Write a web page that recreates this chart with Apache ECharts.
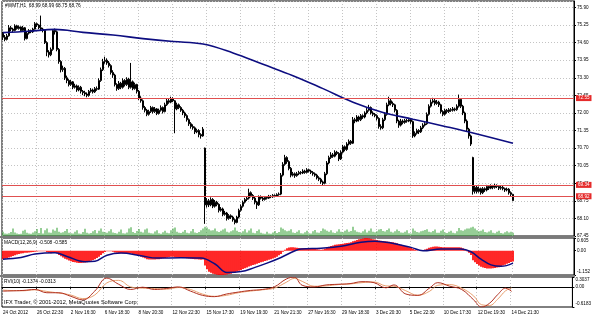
<!DOCTYPE html>
<html><head><meta charset="utf-8">
<script src="https://cdn.jsdelivr.net/npm/echarts@6/dist/echarts.min.js"></script>
<style>html,body{margin:0;padding:0;background:#fff}#c{width:594px;height:316px}</style>
</head><body><div id="c"></div><script>
const xLabels = ['24 Oct 2012','26 Oct 22:30','2 Nov 16:30','6 Nov 18:30','8 Nov 20:30','12 Nov 22:30','15 Nov 17:30','19 Nov 19:30','21 Nov 21:30','27 Nov 16:30','29 Nov 18:30','3 Dec 20:30','5 Dec 22:30','10 Dec 17:30','12 Dec 19:30','14 Dec 21:30'];
const open = [
74.95,74.80,74.72,74.85,75.15,75.10,75.05,75.22,75.12,75.18,75.05,75.15,74.75,74.95,75.05,75.00,
75.10,75.30,75.25,75.15,75.10,75.05,74.60,74.25,74.15,74.35,75.05,75.00,74.35,73.90,73.60,73.65,
73.30,73.20,73.05,73.15,72.95,73.00,72.85,72.95,72.80,72.75,72.70,72.65,72.80,72.85,72.78,72.90,
72.88,73.20,73.60,73.90,73.95,73.85,73.75,73.50,73.40,73.05,72.90,73.10,72.95,73.20,73.05,73.25,
72.95,73.15,72.90,73.05,72.80,72.55,72.45,72.20,72.10,71.95,72.05,72.20,72.05,72.15,71.98,72.10,
72.20,72.05,72.30,72.45,72.40,72.52,72.45,72.15,72.30,72.20,72.10,72.00,71.90,71.75,71.60,71.50,
71.45,71.30,71.35,71.20,71.15,70.70,68.60,68.75,68.60,68.80,68.55,68.70,68.62,68.40,68.45,68.25,
68.30,68.10,68.20,68.15,68.05,67.95,68.15,68.40,68.55,68.70,68.80,68.85,69.05,68.95,68.85,68.70,
68.60,68.90,68.85,68.80,68.88,68.85,68.92,68.90,68.95,68.92,68.98,69.00,69.70,70.10,70.35,70.20,
69.95,69.70,69.75,69.68,69.75,69.80,69.78,69.85,69.80,69.90,69.85,69.80,69.75,69.70,69.60,69.55,
69.45,69.40,69.75,70.15,70.35,70.45,70.40,70.55,70.50,70.30,70.55,70.75,70.65,70.85,70.95,70.88,
71.75,71.70,71.85,71.75,71.90,71.85,72.00,72.10,72.20,72.00,71.95,71.90,71.80,71.50,71.45,71.75,
71.95,72.30,72.45,72.35,72.30,72.10,71.70,71.55,71.70,71.65,71.72,71.70,71.75,71.68,71.15,71.25,
71.35,71.30,71.45,71.55,71.60,71.95,72.25,72.40,72.45,72.35,72.40,72.30,72.05,71.95,72.10,72.05,
72.12,72.10,72.15,72.12,72.25,72.50,72.25,72.00,71.70,71.40,71.15,70.35,69.10,69.25,69.10,69.20,
69.05,69.20,69.15,69.28,69.22,69.30,69.25,69.32,69.28,69.22,69.25,69.20,69.15,69.18,69.05,68.99];
const close = [
74.80,74.72,74.85,75.15,75.10,75.05,75.22,75.12,75.18,75.05,75.15,74.75,74.95,75.05,75.00,75.10,
75.30,75.25,75.15,75.10,75.05,74.60,74.25,74.15,74.35,75.05,75.00,74.35,73.90,73.60,73.65,73.30,
73.20,73.05,73.15,72.95,73.00,72.85,72.95,72.80,72.75,72.70,72.65,72.80,72.85,72.78,72.90,72.88,
73.20,73.60,73.90,73.95,73.85,73.75,73.50,73.40,73.05,72.90,73.10,72.95,73.20,73.05,73.25,72.95,
73.15,72.90,73.05,72.80,72.55,72.45,72.20,72.10,71.95,72.05,72.20,72.05,72.15,71.98,72.10,72.20,
72.05,72.30,72.45,72.40,72.52,72.45,72.15,72.30,72.20,72.10,72.00,71.90,71.75,71.60,71.50,71.45,
71.30,71.35,71.20,71.15,71.40,68.60,68.75,68.60,68.80,68.55,68.70,68.62,68.40,68.45,68.25,68.30,
68.10,68.20,68.15,68.05,67.95,68.15,68.40,68.55,68.70,68.80,68.85,69.05,68.95,68.85,68.70,68.60,
68.90,68.85,68.80,68.88,68.85,68.92,68.90,68.95,68.92,68.98,69.00,69.70,70.10,70.35,70.20,69.95,
69.70,69.75,69.68,69.75,69.80,69.78,69.85,69.80,69.90,69.85,69.80,69.75,69.70,69.60,69.55,69.45,
69.40,69.75,70.15,70.35,70.45,70.40,70.55,70.50,70.30,70.55,70.75,70.65,70.85,70.95,70.88,71.75,
71.70,71.85,71.75,71.90,71.85,72.00,72.10,72.20,72.00,71.95,71.90,71.80,71.50,71.45,71.75,71.95,
72.30,72.45,72.35,72.30,72.10,71.70,71.55,71.70,71.65,71.72,71.70,71.75,71.68,71.15,71.25,71.35,
71.30,71.45,71.55,71.60,71.95,72.25,72.40,72.45,72.35,72.40,72.30,72.05,71.95,72.10,72.05,72.12,
72.10,72.15,72.12,72.25,72.50,72.25,72.00,71.70,71.40,71.15,70.85,69.10,69.25,69.10,69.20,69.05,
69.20,69.15,69.28,69.22,69.30,69.25,69.32,69.28,69.22,69.25,69.20,69.15,69.18,69.05,68.99,68.76];
const high = [
75.00,74.88,74.92,75.25,75.22,75.15,75.28,75.26,75.24,75.20,75.22,75.18,75.00,75.10,75.08,75.15,
75.36,75.34,75.28,75.60,75.15,75.08,74.65,74.32,74.42,75.10,75.12,75.05,74.40,73.95,73.75,73.70,
73.38,73.25,73.22,73.18,73.08,73.05,73.02,73.00,72.85,72.82,72.76,72.85,72.92,72.90,72.96,72.98,
73.28,73.68,74.00,74.08,74.02,73.92,73.80,73.58,73.45,73.10,73.18,73.15,73.28,73.25,73.32,73.30,
73.85,73.20,73.12,73.08,72.85,72.62,72.50,72.26,72.15,72.12,72.26,72.24,72.22,72.18,72.16,72.28,
72.24,72.38,72.52,72.55,72.60,72.58,72.48,72.38,72.35,72.25,72.15,72.05,71.95,71.80,71.66,71.58,
71.50,71.42,71.40,71.25,71.48,70.72,68.85,68.82,68.88,68.85,68.78,68.75,68.66,68.52,68.50,68.38,
68.34,68.26,68.25,68.20,68.10,68.20,68.46,68.62,68.76,68.86,68.92,69.20,69.10,69.00,68.90,68.75,
68.95,68.95,68.90,68.93,68.92,68.97,68.96,69.00,68.99,69.03,69.06,69.78,70.18,70.45,70.40,70.25,
70.00,69.82,69.80,69.82,69.86,69.85,69.92,69.90,69.96,69.94,69.90,69.85,69.80,69.75,69.66,69.60,
69.50,69.82,70.22,70.42,70.55,70.52,70.62,70.60,70.55,70.62,70.82,70.80,70.92,71.02,71.00,71.85,
71.82,71.92,71.90,71.96,71.95,72.06,72.18,72.30,72.24,72.06,72.00,71.95,71.84,71.58,71.82,72.02,
72.38,72.60,72.52,72.42,72.34,72.14,71.75,71.78,71.76,71.78,71.78,71.82,71.80,71.72,71.32,71.42,
71.40,71.52,71.62,71.66,72.02,72.32,72.50,72.56,72.52,72.48,72.45,72.34,72.10,72.16,72.15,72.18,
72.18,72.22,72.20,72.32,72.68,72.55,72.30,72.05,71.76,71.45,71.20,70.38,69.32,69.30,69.28,69.24,
69.26,69.25,69.34,69.32,69.36,69.34,69.38,69.36,69.32,69.30,69.30,69.24,69.24,69.22,69.10,68.99];
const low = [
74.70,74.65,74.68,74.82,75.02,74.98,75.02,75.08,75.08,75.00,75.02,74.68,74.72,74.90,74.95,74.96,
75.08,75.18,75.10,75.05,74.98,74.55,74.10,74.05,74.10,74.30,74.90,74.28,73.82,73.50,73.52,73.22,
73.10,72.98,73.00,72.88,72.90,72.78,72.80,72.72,72.66,72.62,72.58,72.60,72.75,72.72,72.74,72.82,
72.85,73.15,73.55,73.82,73.78,73.68,73.42,73.30,72.98,72.82,72.85,72.88,72.90,72.98,73.00,72.88,
72.90,72.84,72.86,72.72,72.48,72.38,72.12,72.02,71.88,71.90,72.00,71.98,72.00,71.92,71.94,72.05,
71.98,72.02,72.26,72.34,72.36,72.40,71.25,72.10,72.14,72.04,71.92,71.82,71.68,71.52,71.42,71.38,
71.22,71.25,71.10,71.05,71.12,67.90,68.50,68.52,68.55,68.48,68.50,68.55,68.32,68.35,68.18,68.20,
68.02,68.05,68.08,67.98,67.88,67.92,68.10,68.35,68.50,68.65,68.74,68.80,68.88,68.78,68.62,68.45,
68.56,68.80,68.74,68.76,68.80,68.82,68.85,68.86,68.88,68.90,68.94,68.96,69.65,70.05,70.12,69.88,
69.62,69.65,69.60,69.64,69.70,69.72,69.74,69.75,69.76,69.80,69.74,69.68,69.64,69.54,69.48,69.38,
69.30,69.36,69.70,70.10,70.30,70.34,70.36,70.44,70.22,70.26,70.50,70.58,70.60,70.80,70.82,70.85,
71.62,71.66,71.68,71.70,71.78,71.80,71.95,72.05,71.94,71.88,71.84,71.72,71.42,71.38,71.40,71.70,
71.90,72.25,72.28,72.22,72.02,71.62,71.45,71.50,71.58,71.60,71.64,71.66,71.60,71.08,71.10,71.20,
71.22,71.26,71.40,71.50,71.56,71.90,72.20,72.35,72.28,72.30,72.22,71.98,71.88,71.90,71.98,72.00,
72.04,72.05,72.06,72.08,72.20,72.18,71.92,71.62,71.32,71.05,70.78,68.98,69.02,69.02,69.05,68.98,
69.00,69.08,69.10,69.15,69.18,69.18,69.20,69.22,69.15,69.16,69.14,69.08,69.10,68.98,68.92,68.75];
const volume = [
520,310,260,340,480,900,420,300,250,280,620,750,380,290,260,410,
560,820,350,940,300,700,880,420,380,760,640,980,520,380,450,600,
820,400,330,290,520,690,310,270,480,850,380,300,350,560,720,330,
640,900,520,450,380,560,800,420,360,300,500,760,340,290,420,880,
1050,480,350,600,820,500,420,760,880,400,330,300,540,700,320,280,
450,620,380,340,700,900,1000,520,400,360,500,720,380,330,560,830,
420,360,480,700,900,1100,1000,800,650,700,900,560,480,620,760,880,
500,420,560,700,1000,620,480,400,560,800,420,650,900,380,340,600,
760,380,300,280,520,300,260,420,600,350,480,1000,860,700,560,620,
800,420,360,520,700,330,300,460,640,340,300,560,720,420,380,600,
880,760,620,500,700,420,360,540,800,500,440,620,760,520,600,1100,
700,520,440,380,560,760,420,640,900,500,460,560,780,820,600,540,
720,880,500,420,560,760,600,420,380,500,700,340,300,900,620,480,
420,560,640,720,800,520,460,600,760,400,380,620,780,420,360,500,
640,380,340,560,960,700,620,760,880,900,1000,1100,900,700,560,620,
760,480,420,540,680,380,320,500,620,360,300,460,560,420,500,380];
// moving average, read at sample bars [bar index, value]
const maPoints = [[0,74.97],[13,75.02],[26,75.09],[40,74.98],[55,74.88],[70,74.75],[85,74.64],[100,74.55],[115,74.22],[130,73.80],[145,73.38],[160,72.90],[175,72.40],[190,72.02],[205,71.77],[220,71.52],[235,71.26],[255,70.88]];
const macdHist = [
-0.40,-0.38,-0.35,-0.32,-0.28,
-0.25,-0.22,-0.18,-0.15,-0.13,-0.12,-0.10,-0.09,-0.08,-0.07,-0.06,
-0.05,-0.04,-0.03,-0.03,-0.02,-0.03,-0.06,-0.10,-0.12,-0.10,
-0.08,-0.12,-0.20,-0.26,
-0.32,-0.38,-0.42,-0.46,-0.50,-0.53,-0.55,-0.57,-0.58,-0.58,-0.57,-0.56,-0.55,
-0.52,-0.48,-0.44,-0.40,-0.35,-0.28,-0.20,-0.12,-0.06,-0.02,
-0.02,-0.03,-0.05,-0.08,-0.10,-0.12,-0.12,
-0.12,-0.12,-0.11,-0.12,-0.13,-0.15,-0.17,-0.20,-0.24,-0.28,
-0.32,-0.36,-0.40,-0.42,-0.42,-0.42,-0.42,-0.41,-0.40,-0.38,-0.36,-0.34,-0.32,
-0.30,-0.28,-0.28,-0.30,-0.31,-0.32,-0.33,-0.34,-0.35,-0.36,-0.37,-0.38,-0.39,-0.40,-0.41,-0.42,-0.43,
-0.42,-0.70,-0.88,
-1.00,-1.05,-1.09,-1.12,-1.14,-1.15,-1.15,-1.152,-1.14,-1.13,-1.11,-1.09,-1.06,
-1.03,-0.99,-0.95,-0.91,-0.87,-0.83,-0.79,-0.75,-0.71,-0.68,
-0.65,-0.62,-0.58,-0.55,-0.52,-0.49,-0.46,-0.43,-0.40,-0.37,-0.33,-0.28,-0.22,-0.15,
-0.05,0.05,0.12,0.15,0.16,
0.16,0.15,0.14,0.13,0.12,0.12,0.12,0.11,0.10,0.10,0.09,0.08,0.07,0.06,0.05,
0.06,0.10,0.15,0.19,0.22,0.25,0.28,0.30,0.31,0.32,0.33,0.35,0.37,0.38,0.40,
0.45,0.48,0.51,0.54,0.56,0.58,0.60,0.605,0.59,0.57,0.55,
0.53,0.51,0.49,0.47,0.46,0.45,0.44,0.43,0.42,0.40,0.38,0.35,0.32,0.29,
0.26,0.23,0.20,0.17,0.14,0.10,0.05,0.02,0.00,0.02,0.04,
0.06,0.10,0.14,0.17,0.19,0.20,0.20,0.19,0.18,
0.17,0.17,0.17,0.16,0.16,0.16,0.16,0.16,0.17,0.15,0.12,
0.06,-0.02,-0.10,-0.20,
-0.45,-0.55,-0.63,-0.70,-0.76,-0.80,-0.82,-0.84,
-0.84,-0.84,-0.83,-0.82,-0.80,-0.78,-0.75,
-0.70,-0.66,-0.62,-0.58,-0.54,-0.508];
const macdSignal = [[0,-0.40],[9,-0.32],[16,-0.16],[26,-0.10],[32,-0.27],[41,-0.52],[46,-0.50],[52,-0.21],[59,-0.11],[69,-0.24],[77,-0.35],[89,-0.33],[99,-0.35],[106,-0.63],[112,-1.03],[119,-0.99],[126,-0.79],[132,-0.59],[139,-0.32],[146,0.0],[149,0.08],[159,0.12],[169,0.21],[179,0.40],[186,0.45],[194,0.37],[204,0.16],[210,0.0],[219,0.08],[229,0.08],[234,-0.05],[239,-0.40],[244,-0.67],[249,-0.74],[255,-0.585]];
const rviMain = [[0,-0.13],[10,-0.11],[16,-0.08],[22,-0.18],[28,-0.18],[34,-0.29],[40,-0.40],[46,-0.13],[52,0.27],[58,0.08],[64,-0.08],[70,-0.01],[76,-0.08],[82,-0.05],[88,0.0],[94,-0.13],[100,-0.26],[106,-0.30],[112,-0.22],[118,-0.16],[124,-0.11],[130,-0.08],[136,0.0],[142,0.24],[146,0.30],[150,0.05],[156,0.0],[162,0.06],[168,0.08],[174,0.10],[180,0.16],[186,0.13],[192,-0.03],[196,0.06],[202,-0.22],[208,-0.26],[214,-0.03],[218,0.13],[224,0.02],[230,-0.08],[236,-0.40],[240,-0.618],[244,-0.50],[248,-0.24],[252,-0.04],[255,-0.1374]];
const rviSignal = [[0,-0.10],[10,-0.12],[16,-0.09],[22,-0.14],[28,-0.19],[34,-0.25],[40,-0.36],[46,-0.25],[52,0.12],[58,0.20],[64,0.0],[70,-0.04],[76,-0.05],[82,-0.07],[88,-0.02],[94,-0.08],[100,-0.22],[106,-0.29],[112,-0.26],[118,-0.18],[124,-0.13],[130,-0.09],[136,-0.04],[142,0.14],[146,0.26],[150,0.17],[156,0.02],[162,0.03],[168,0.07],[174,0.09],[180,0.13],[186,0.15],[192,0.03],[196,0.02],[202,-0.12],[208,-0.26],[214,-0.13],[218,0.05],[224,0.07],[230,-0.04],[236,-0.28],[240,-0.55],[244,-0.57],[248,-0.38],[252,-0.12],[255,-0.0313]];
const hLines = [72.55, 69.34, 68.92];
const lastPrice = 68.76;
const macdTicks = [0.605, 0, -1.152];
const rviTicks = [0.3037, 0, -0.6183];

const SLOTS = 286, STEP = 17;
const cats = [];
for (let i = 0; i < SLOTS; i++) cats.push(i % STEP === 0 && i / STEP < xLabels.length ? xLabels[i / STEP] : String(i));
const isLab = (i) => i % STEP === 0 && i / STEP < xLabels.length;
const candles = open.map((o, i) => [o, close[i], low[i], high[i]]);
const FS = 4.6, FF = 'Liberation Sans';
const grid = {color:'#c4c4c4', type:[1,2], width:1};
function xa(gi, showLab) {
  return {type:'category', gridIndex:gi, data:cats, boundaryGap:true,
    axisLine:{show:showLab, lineStyle:{color:'#000'}},
    axisTick:{show:showLab, interval:isLab, length:2, lineStyle:{color:'#000'}},
    axisLabel:{show:showLab, interval:isLab, align:'left', fontSize:FS, color:'#000', margin:3, fontFamily:FF},
    splitLine:{show:true, interval:isLab, lineStyle:grid}};
}
function subY(gi, ticks) {
  const mx = ticks[0], mn = ticks[2];
  return {type:'value', gridIndex:gi, position:'right', min:mn, max:mx,
    axisLine:{show:true, lineStyle:{color:'#000'}},
    axisTick:{show:true, length:2, customValues:ticks, lineStyle:{color:'#000'}},
    splitLine:{show:false},
    axisLabel:{customValues:ticks, color:'#000', fontSize:FS, margin:3, fontFamily:FF,
      formatter:(v)=>{ if (Math.abs(v) < 1e-9) return '0.00';
        if (Math.abs(v-mx) < 1e-6) return '{t|'+mx+'}';
        if (Math.abs(v-mn) < 1e-6) return '{b|'+mn+'}'; return String(v); },
      rich:{t:{fontSize:FS, color:'#000', fontFamily:FF, padding:[6,0,0,0]}, b:{fontSize:FS, color:'#000', fontFamily:FF, padding:[0,0,6,0]}}}};
}
const chart = echarts.init(document.getElementById('c'), null, {renderer:'canvas'});
chart.setOption({
  animation:false, backgroundColor:'#fff', textStyle:{fontFamily:FF},
  grid:[{left:2, top:1, width:572, height:235, show:true, borderColor:'#000', borderWidth:1},
        {left:2, top:238, width:572, height:37, show:true, borderColor:'#000', borderWidth:1},
        {left:2, top:277, width:572, height:30, show:true, borderColor:'#000', borderWidth:1}],
  xAxis:[xa(0,false), xa(1,false), xa(2,true)],
  yAxis:[
    {type:'value', gridIndex:0, position:'right', min:67.45, max:76.14, interval:0.65,
     axisLine:{show:true, lineStyle:{color:'#000'}}, axisTick:{show:true, length:2, lineStyle:{color:'#000'}},
     axisLabel:{fontSize:FS, color:'#000', margin:3, showMaxLabel:false, fontFamily:FF, formatter:(v)=>v.toFixed(2)},
     splitLine:{show:true, lineStyle:grid}},
    {type:'value', gridIndex:0, show:false, min:0, max:28000, splitLine:{show:false}},
    subY(1, macdTicks),
    subY(2, rviTicks)
  ],
  series:[
    {type:'bar', xAxisIndex:0, yAxisIndex:1, data:volume, barWidth:0.9, itemStyle:{color:'#2e9e2e'}, silent:true},
    {type:'candlestick', xAxisIndex:0, yAxisIndex:0, data:candles, barWidth:1.8,
     itemStyle:{color:'#fff', color0:'#000', borderColor:'#000', borderColor0:'#000', borderWidth:1},
     markLine:{silent:true, symbol:['none','none'], animation:false,
       lineStyle:{color:'#e05050', width:1, type:'solid'},
       label:{position:'end', distance:2, formatter:(p)=>p.value.toFixed(2), backgroundColor:'#e52b2b', color:'#fff', fontSize:FS, padding:[1,2,0,2], fontFamily:FF},
       data: hLines.map(v=>({yAxis:v})).concat([{yAxis:lastPrice, lineStyle:{opacity:0}, label:{backgroundColor:'#000', color:'#fff'}}])}},
    {type:'line', xAxisIndex:0, yAxisIndex:0, data:maPoints, smooth:0.4, showSymbol:false, connectNulls:true,
     lineStyle:{color:'#0d0d80', width:1.6}},
    {type:'bar', xAxisIndex:1, yAxisIndex:2, data:macdHist, barWidth:1.7, itemStyle:{color:'#ff0000'}},
    {type:'line', xAxisIndex:1, yAxisIndex:2, data:macdSignal, smooth:0.4, showSymbol:false, lineStyle:{color:'#0d0d80', width:1.5}},
    {type:'line', xAxisIndex:2, yAxisIndex:3, data:rviSignal, smooth:0.4, showSymbol:false, lineStyle:{color:'#e8a070', width:1}},
    {type:'line', xAxisIndex:2, yAxisIndex:3, data:rviMain, smooth:0.4, showSymbol:false, lineStyle:{color:'#b03020', width:1}}
  ],
  graphic:[
    {type:'rect', shape:{x:0, y:236, width:575, height:2}, style:{fill:'#7a7a7a'}, z:100},
    {type:'rect', shape:{x:0, y:275, width:575, height:2}, style:{fill:'#7a7a7a'}, z:100},
    {type:'text', x:5, y:6, style:{text:'#WMT,H1  68.99 68.99 68.75 68.76', fill:'#000', font:'4.8px "Liberation Sans"', verticalAlign:'middle'}, z:101},
    {type:'text', x:4, y:242.5, style:{text:'MACD(12,26,9) -0.508 -0.585', fill:'#000', font:'4.8px "Liberation Sans"', verticalAlign:'middle'}, z:101},
    {type:'text', x:4, y:281.5, style:{text:'RVI(10) -0.1374 -0.0313', fill:'#000', font:'4.8px "Liberation Sans"', verticalAlign:'middle'}, z:101},
    {type:'text', x:4, y:302.5, style:{text:'IFX Trader, \u00a9 2001-2012, MetaQuotes Software Corp.', fill:'#000', font:'5.6px "Liberation Sans"', verticalAlign:'middle'}, z:101}
  ]
});
</script></body></html>
